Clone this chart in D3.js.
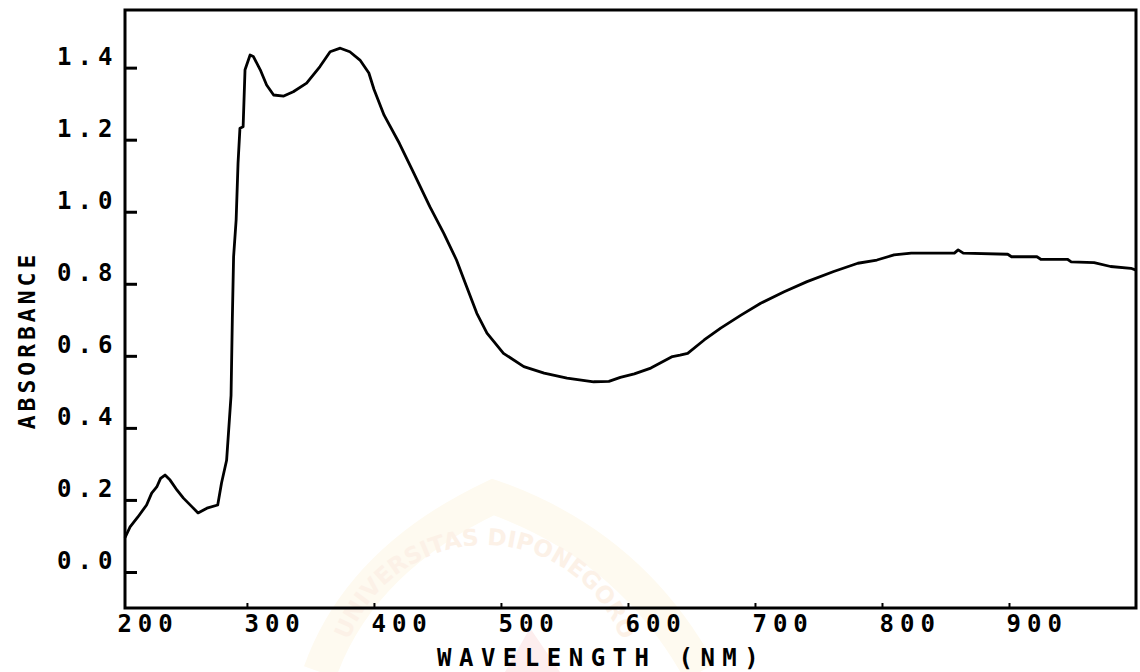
<!DOCTYPE html>
<html>
<head>
<meta charset="utf-8">
<script src="https://cdn.jsdelivr.net/npm/d3@7"></script>
<style>
    html, body { margin: 0; padding: 0; background: #fff; }
    #chart { width: 1140px; height: 672px; }
    text { font-family: "DejaVu Sans Mono", monospace; font-weight: bold; fill: #000; }
</style>
</head>
<body>
<div id="chart"></div>
<script>

// Spectrum
var wavelength = [204, 208, 214, 221, 225, 229, 232, 235.5, 239.5, 245, 250, 257, 261.5, 268.5, 277, 280, 284,
    287.5, 288.5, 289.5, 291.5, 293, 294.5, 297, 298.5, 302.5, 305, 310.5, 315.5, 321, 329, 336.5, 347, 357.5,
    365.5, 373.5, 381, 389, 396, 400, 408, 420, 431, 444, 455, 465, 473, 481, 489, 502, 518, 534, 552, 573,
    585, 594, 605, 618, 635, 641, 647, 660, 673, 689, 704.5, 723, 741, 762, 781, 796, 809.5, 823, 849, 857,
    860, 864, 899, 902, 922, 925, 946, 949, 967, 980, 996, 1000];
var absorbance = [0.095, 0.125, 0.152, 0.186, 0.219, 0.236, 0.26, 0.269, 0.255, 0.227, 0.205, 0.18, 0.164, 0.177, 0.186, 0.247, 0.31,
    0.49, 0.70, 0.875, 0.977, 1.135, 1.232, 1.236, 1.394, 1.435, 1.431, 1.394, 1.352, 1.324, 1.321, 1.333, 1.357, 1.403,
    1.444, 1.454, 1.444, 1.421, 1.385, 1.34, 1.268, 1.19, 1.11, 1.014, 0.94, 0.866, 0.792, 0.718, 0.663, 0.607, 0.57, 0.552, 0.538, 0.528,
    0.529, 0.54, 0.55, 0.566, 0.598, 0.602, 0.607, 0.644, 0.677, 0.713, 0.746, 0.778, 0.806, 0.834, 0.857, 0.866, 0.88, 0.885, 0.885, 0.885,
    0.894, 0.885, 0.882, 0.875, 0.875, 0.868, 0.868, 0.861, 0.859, 0.848, 0.843, 0.838];

var xTicks = [200, 300, 400, 500, 600, 700, 800, 900];
var yTicks = [0.0, 0.2, 0.4, 0.6, 0.8, 1.0, 1.2, 1.4];
var xTitle = "WAVELENGTH (NM)";
var yTitle = "ABSORBANCE";
var watermark = "UNIVERSITAS DIPONEGORO";

var margin = { top: 10, right: 4, bottom: 64, left: 125 };
var W = 1140, H = 672;
var width = W - margin.left - margin.right;
var height = H - margin.top - margin.bottom;

var svg = d3.select("#chart").append("svg")
    .attr("width", W)
    .attr("height", H);

// very faint watermark behind the plot
var wm = svg.append("g").attr("class", "watermark");
wm.append("path")
    .attr("d", "M 320 672 Q 360 560 493 497 Q 630 545 700 672")
    .attr("fill", "none")
    .attr("stroke", "#fefaf0")
    .attr("stroke-width", 34);
wm.append("path")
    .attr("id", "wmArc")
    .attr("d", d3.arc()({ innerRadius: 145, outerRadius: 145, startAngle: -1.3, endAngle: 1.3 }))
    .attr("transform", "translate(485,690)")
    .attr("fill", "none");
wm.append("text")
    .style("font-family", "'DejaVu Sans', sans-serif")
    .style("font-size", "23px")
    .style("fill", "#fcf1e7")
    .append("textPath")
    .attr("href", "#wmArc")
    .attr("startOffset", "25%")
    .attr("text-anchor", "middle")
    .text(watermark);
wm.append("path")
    .attr("d", "M 505 672 L 530 628 L 560 672 Z")
    .attr("fill", "#fdeeee");

var g = svg.append("g")
    .attr("transform", "translate(" + margin.left + "," + margin.top + ")");

var x = d3.scaleLinear().domain([204, 1000]).range([0, width]);
var y = d3.scaleLinear().domain([-0.1, 1.56]).range([height, 0]);

var data = wavelength.map((w, i) => ({ w: w, a: absorbance[i] }));

// axes, labels left-aligned like the plotter output
var xAxis = d3.axisBottom(x).tickValues(xTicks).tickSize(-5).tickSizeOuter(0).tickFormat(d3.format("d"));
var yAxis = d3.axisLeft(y).tickValues(yTicks).tickSize(-12).tickSizeOuter(0).tickFormat(d3.format(".1f"));

var gx = g.append("g")
    .attr("transform", "translate(0," + height + ")")
    .call(xAxis);
gx.select(".domain").remove();
gx.selectAll(".tick line").attr("stroke", "#000").attr("stroke-width", 2)
    .attr("display", d => d < 204 ? "none" : null);
gx.selectAll(".tick text")
    .attr("text-anchor", "start")
    .attr("x", -3)
    .attr("y", 24)
    .attr("dy", 0)
    .style("font-size", "24px")
    .style("letter-spacing", "6px");

var gy = g.append("g").call(yAxis);
gy.select(".domain").remove();
gy.selectAll(".tick line").attr("stroke", "#000").attr("stroke-width", 3);
gy.selectAll(".tick text")
    .attr("text-anchor", "start")
    .attr("x", -68)
    .attr("y", -3)
    .attr("dy", 0)
    .style("font-size", "24px")
    .style("letter-spacing", "6px");

// frame
g.append("rect")
    .attr("width", width)
    .attr("height", height)
    .attr("fill", "none")
    .attr("stroke", "#000")
    .attr("stroke-width", 3);

// spectrum
var line = d3.line()
    .x(d => x(d.w))
    .y(d => y(d.a));

g.append("path")
    .datum(data)
    .attr("fill", "none")
    .attr("stroke", "#000")
    .attr("stroke-width", 2.8)
    .attr("stroke-linejoin", "round")
    .attr("d", line);

// titles
svg.append("text")
    .attr("x", 437)
    .attr("y", 666)
    .style("font-size", "24px")
    .style("letter-spacing", "7.5px")
    .text(xTitle);

svg.append("text")
    .attr("transform", "translate(35,340) rotate(-90)")
    .attr("text-anchor", "middle")
    .style("font-size", "23px")
    .style("letter-spacing", "4px")
    .text(yTitle);

</script>
</body>
</html>
